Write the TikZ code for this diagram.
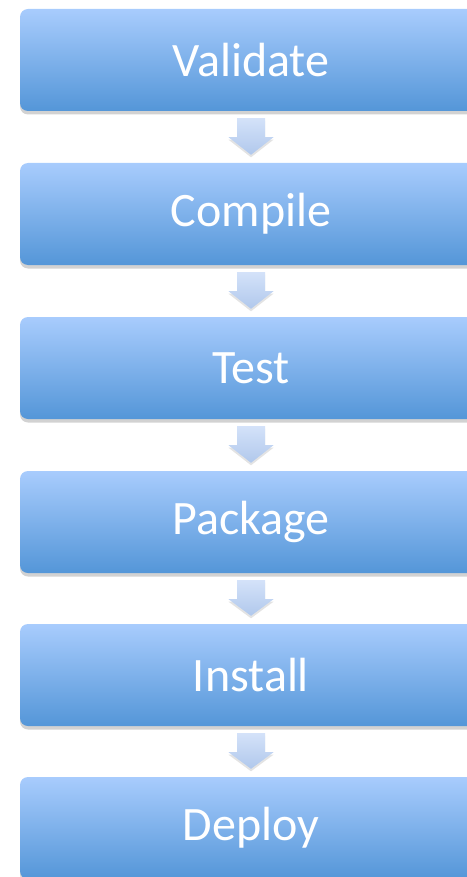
\documentclass[tikz,border=0pt]{standalone}
\usepackage{fontspec}
\setmainfont{Carlito}
\usetikzlibrary{shadows,calc}
\definecolor{boxtop}{RGB}{168,204,253}
\definecolor{boxbot}{RGB}{84,150,216}
\definecolor{arrtop}{RGB}{212,226,249}
\definecolor{arrbot}{RGB}{176,200,236}
\tikzset{
  stepbox/.style={rectangle, rounded corners=8pt, minimum width=462pt, minimum height=102pt,
    top color=boxtop, bottom color=boxbot, draw=none, text=white,
    font=\fontsize{48}{58}\selectfont,
    drop shadow={shadow xshift=0pt, shadow yshift=-3.5pt, opacity=0.25, fill=black!70}},
  flowarrow/.style={top color=arrtop, bottom color=arrbot, draw=none,
    drop shadow={shadow xshift=0pt, shadow yshift=-2.5pt, opacity=0.18, fill=black!60}}
}
\begin{document}
\begin{tikzpicture}[x=1pt,y=-1pt]
\useasboundingbox (0,0) rectangle (466,877);
\node[stepbox] (n1) at (251,60) {Validate};
\node[stepbox] (n2) at (251,214) {Compile};
\node[stepbox] (n3) at (251,368) {Test};
\node[stepbox] (n4) at (251,522) {Package};
\node[stepbox] (n5) at (251,675) {Install};
\node[stepbox] (n6) at (251,828) {Deploy};
\foreach \a/\b in {n1/n2,n2/n3,n3/n4,n4/n5,n5/n6}{
  \path[flowarrow] ($(\a.south)+(-14,7)$) -- ($(\a.south)+(14,7)$) -- ($(\a.south)+(14,26)$)
    -- ($(\a.south)+(22.5,26)$) -- ($(\b.north)+(0,-8)$) -- ($(\a.south)+(-22.5,26)$)
    -- ($(\a.south)+(-14,26)$) -- cycle;
}
\end{tikzpicture}
\end{document}
